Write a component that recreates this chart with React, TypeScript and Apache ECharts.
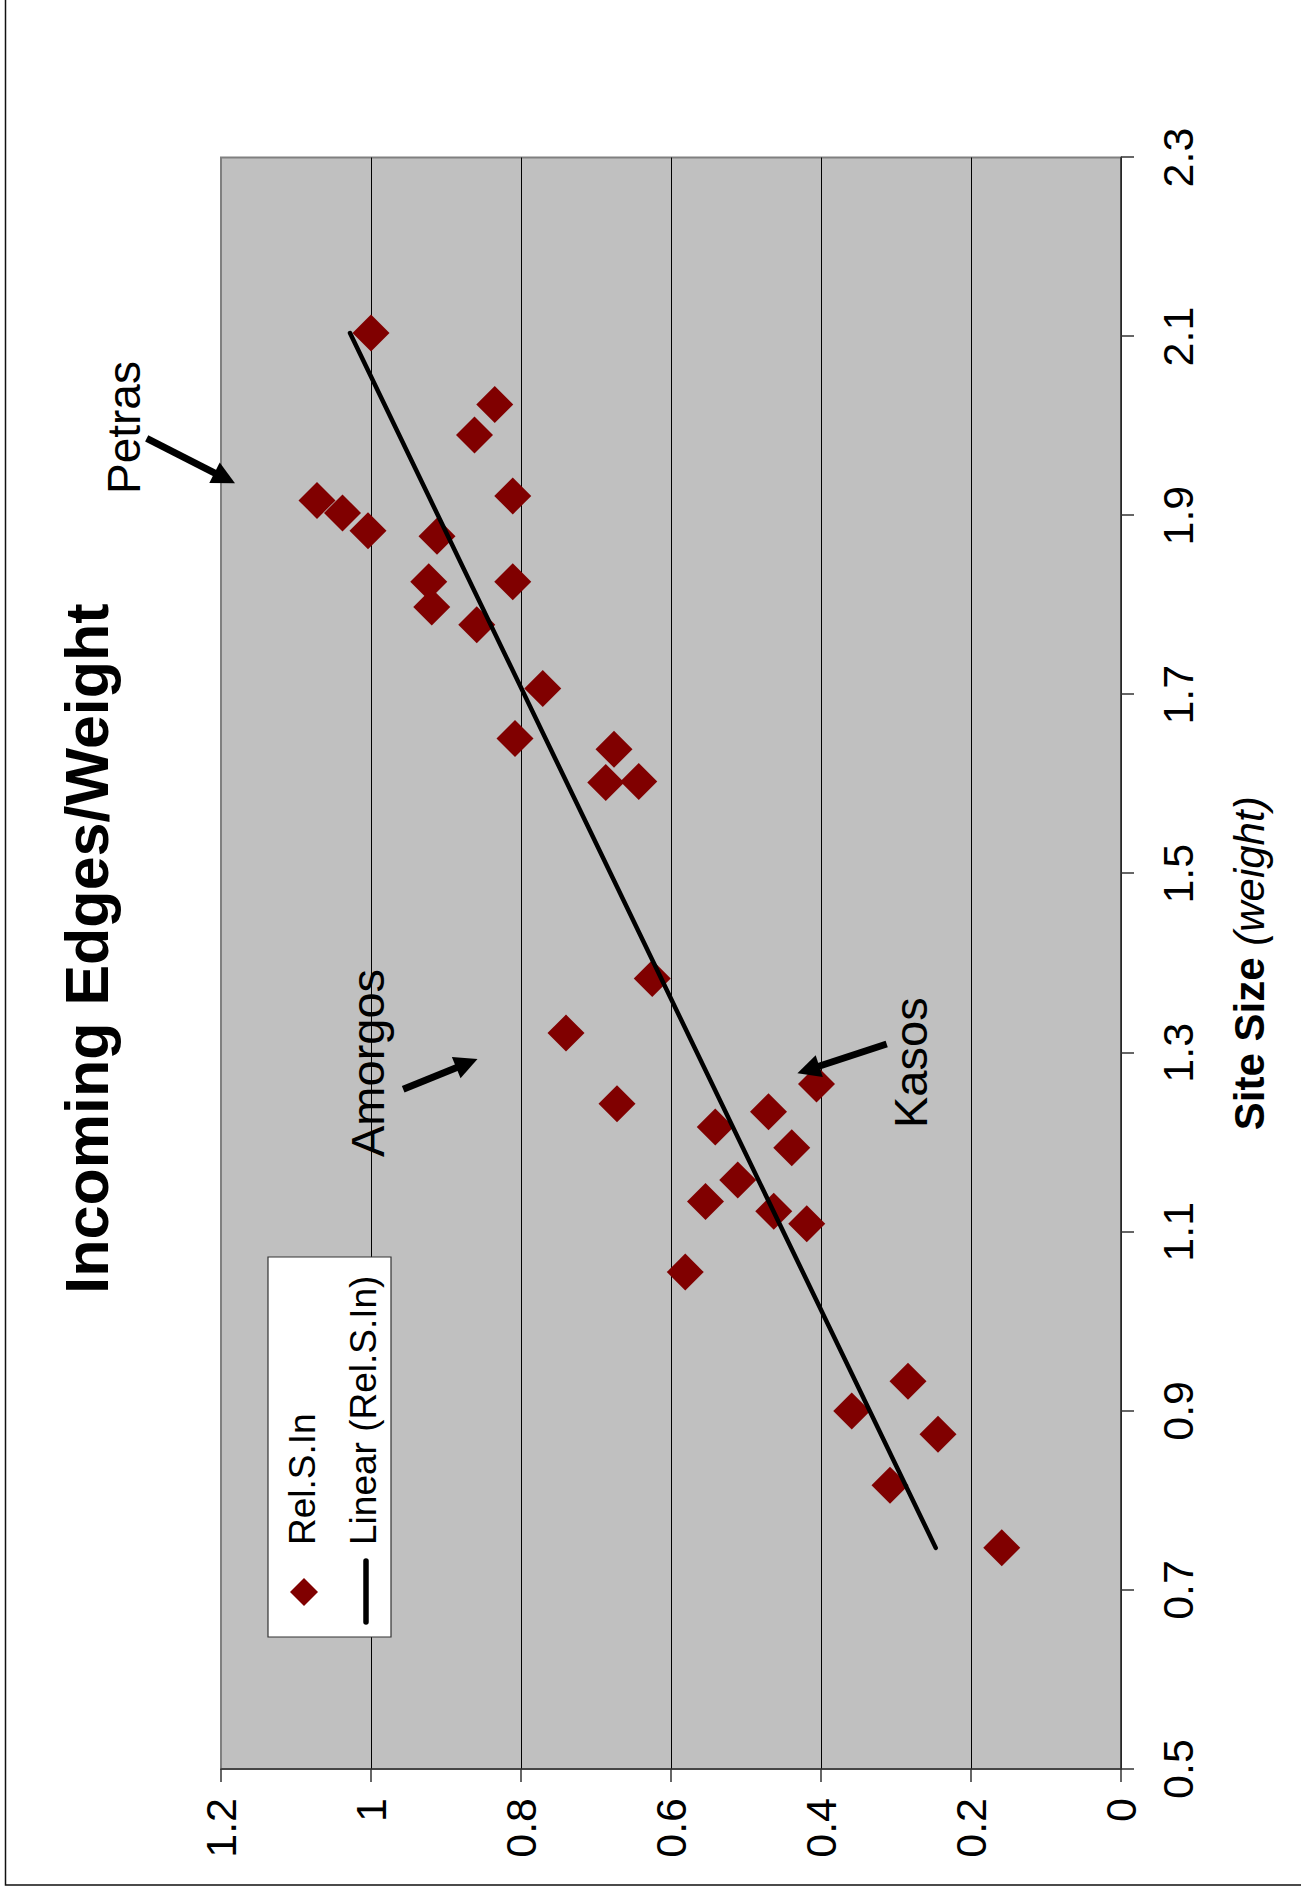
import React, { useEffect, useRef } from "react";
import * as echarts from "echarts";

// Site size (weight) and relative incoming edges per site
const siteSize = [
  0.747, 0.817, 0.874, 0.9, 0.933, 1.055, 1.109, 1.123, 1.134, 1.158, 1.194, 1.217,
  1.234, 1.243, 1.265, 1.322, 1.383, 1.602, 1.603, 1.639, 1.651, 1.707, 1.778, 1.798,
  1.826, 1.826, 1.877, 1.883, 1.903, 1.917, 1.922, 1.99, 2.024, 2.104,
];
const relSIn = [
  0.159, 0.308, 0.244, 0.359, 0.284, 0.581, 0.419, 0.463, 0.554, 0.511, 0.439, 0.541,
  0.47, 0.672, 0.406, 0.74, 0.625, 0.687, 0.643, 0.676, 0.808, 0.771, 0.859, 0.919,
  0.923, 0.811, 0.912, 1.004, 1.038, 1.072, 0.811, 0.862, 0.835, 1.0,
];

// Linear trend line end points
const trendSite = [0.747, 2.104];
const trendValue = [0.247, 1.028];

const siteTicks = [0.5, 0.7, 0.9, 1.1, 1.3, 1.5, 1.7, 1.9, 2.1, 2.3];

const FONT = "'Liberation Sans', Arial, Helvetica, sans-serif";

// The chart is laid out landscape and turned a quarter turn counter-clockwise.
const W = 1897;
const H = 1301;

function arrow(x1: number, y1: number, x2: number, y2: number) {
  const dx = x2 - x1;
  const dy = y2 - y1;
  const len = Math.hypot(dx, dy);
  const ux = dx / len;
  const uy = dy / len;
  const headLen = 23;
  const half = 11.5;
  const bx = x2 - ux * headLen;
  const by = y2 - uy * headLen;
  return [
    {
      type: "line",
      shape: { x1, y1, x2: bx + ux * 2, y2: by + uy * 2 },
      style: { stroke: "#000", lineWidth: 7 },
      z: 100,
    },
    {
      type: "polygon",
      shape: {
        points: [
          [x2, y2],
          [bx - uy * half, by + ux * half],
          [bx + uy * half, by - ux * half],
        ],
      },
      style: { fill: "#000" },
      z: 100,
    },
  ];
}

function label(text: string, x: number, y: number, size: number) {
  return {
    type: "text",
    x,
    y,
    z: 100,
    style: {
      text,
      fill: "#000",
      fontSize: size,
      fontFamily: FONT,
      align: "left",
      verticalAlign: "middle",
      textAlign: "left",
      textVerticalAlign: "middle",
    },
  };
}

export default function App() {
  const ref = useRef<HTMLDivElement>(null);

  useEffect(() => {
    if (!ref.current) return;
    const chart = echarts.init(ref.current, null, { renderer: "svg" });

    const points = siteSize.map((s, i) => [s, relSIn[i]]);
    const trend = trendSite.map((s, i) => [s, trendValue[i]]);

    chart.setOption({
      animation: false,
      backgroundColor: "#fff",
      textStyle: { fontFamily: FONT },
      title: {
        text: "Incoming Edges/Weight",
        left: "center",
        top: 56,
        padding: 0,
        textStyle: { fontSize: 61, fontWeight: "bold", color: "#000", fontFamily: FONT },
      },
      grid: {
        left: 128,
        right: 157.5,
        top: 221,
        bottom: 180,
        show: true,
        backgroundColor: "#C0C0C0",
        borderColor: "#808080",
        borderWidth: 2,
      },
      xAxis: {
        type: "value",
        min: 0.5,
        max: 2.3,
        name: "{b|Site Size }{i|(weight)}",
        nameLocation: "middle",
        nameGap: 107,
        nameTextStyle: {
          rich: {
            b: { fontSize: 42, fontWeight: "bold", fontFamily: FONT, color: "#000" },
            i: { fontSize: 42, fontStyle: "italic", fontFamily: FONT, color: "#000" },
          },
        },
        axisLine: { show: true, lineStyle: { color: "#333", width: 1.5 } },
        axisTick: {
          show: true,
          length: 13,
          customValues: siteTicks,
          lineStyle: { color: "#333", width: 1.5 },
        },
        axisLabel: {
          customValues: siteTicks,
          formatter: (v: number) => v.toFixed(1),
          fontSize: 43,
          margin: 35,
          color: "#000",
          fontFamily: FONT,
        },
        splitLine: { show: false },
      },
      yAxis: {
        type: "value",
        min: 0,
        max: 1.2,
        interval: 0.2,
        axisLine: { show: true, lineStyle: { color: "#333", width: 1.5 } },
        axisTick: { show: true, length: 13, lineStyle: { color: "#333", width: 1.5 } },
        axisLabel: { fontSize: 43, margin: 29, color: "#000", fontFamily: FONT },
        splitLine: { show: true, showMaxLine: false, lineStyle: { color: "#000", width: 1 } },
      },
      series: [
        {
          name: "Rel.S.In",
          type: "scatter",
          data: points,
          symbol: "diamond",
          symbolSize: 37,
          itemStyle: { color: "#800000", opacity: 1 },
          z: 3,
        },
        {
          name: "Linear (Rel.S.In)",
          type: "line",
          data: trend,
          symbol: "none",
          showSymbol: false,
          lineStyle: { color: "#000", width: 4.5, cap: "round" },
          z: 4,
        },
      ],
      graphic: [
        // outer frame
        {
          type: "rect",
          shape: { x: 12, y: 5.5, width: 2400, height: 2000 },
          style: { fill: "none", stroke: "#111", lineWidth: 1.5 },
          silent: true,
          z: 0,
        },
        // legend box
        {
          type: "rect",
          shape: { x: 260, y: 268, width: 380, height: 123 },
          style: { fill: "#fff", stroke: "#333", lineWidth: 1.2 },
          z: 90,
        },
        {
          type: "polygon",
          shape: { points: [[305, 290], [319, 304], [305, 318], [291, 304]] },
          style: { fill: "#800000" },
          z: 95,
        },
        {
          type: "line",
          shape: { x1: 275, y1: 366, x2: 336, y2: 366 },
          style: { stroke: "#000", lineWidth: 5.5, lineCap: "round" },
          z: 95,
        },
        label("Rel.S.In", 352, 302, 37),
        label("Linear (Rel.S.In)", 352, 363, 37),
        // annotations
        label("Petras", 1403, 124, 46),
        ...arrow(1458.7, 146.7, 1413.7, 235),
        label("Amorgos", 740, 367, 47),
        ...arrow(807.7, 403.2, 838, 477.5),
        label("Kasos", 769, 910, 47),
        ...arrow(853, 886.7, 823.7, 797.4),
      ],
    });

    return () => chart.dispose();
  }, []);

  return (
    <div
      style={{
        position: "absolute",
        left: 0,
        top: 0,
        width: H,
        height: W,
        overflow: "hidden",
        background: "#fff",
      }}
    >
      <div
        ref={ref}
        style={{
          position: "absolute",
          left: 0,
          top: 0,
          width: W,
          height: H,
          transformOrigin: "0 0",
          transform: `translate(0px, ${W}px) rotate(-90deg)`,
        }}
      />
    </div>
  );
}
